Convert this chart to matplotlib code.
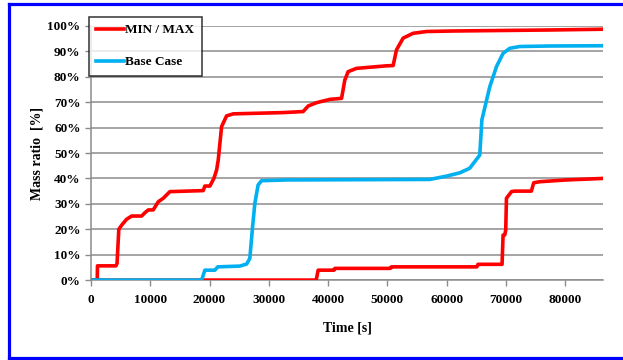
import matplotlib
matplotlib.use("Agg")
import matplotlib.pyplot as plt
from matplotlib.lines import Line2D

# MAX curve (upper red)
max_t = [0, 1060, 1100, 4200, 4400, 4700, 5180, 6000, 6860, 8550, 9100, 9670, 10500,
         11350, 12200, 13320, 18940, 19220, 20070, 20740, 21200, 21470, 22040, 22880,
         24000, 32430, 35800, 36650, 38060, 40300, 42280, 42830, 43390, 44800, 49860,
         50980, 51550, 52670, 54350, 56610, 61100, 77400, 86400]
max_v = [0, 0, 5.6, 5.6, 6.5, 20, 21.6, 23.9, 25.2, 25.2, 26.5, 27.6, 27.6,
         30.8, 32.2, 34.8, 35.2, 37, 37, 40, 43.3, 47.2, 60.4, 64.6,
         65.4, 65.9, 66.3, 68.5, 69.8, 71.1, 71.5, 78.7, 82, 83.3, 84.3,
         84.4, 90.6, 95.2, 97.1, 97.8, 98, 98.4, 98.7]

# MIN curve (lower red)
min_t = [0, 38000, 38330, 41000, 41150, 50500, 50700, 65100, 65300, 69360, 69530,
         69800, 69980, 70100, 70950, 71500, 74300, 74700, 75720, 80200, 86400]
min_v = [0, 0, 3.9, 3.9, 4.6, 4.6, 5.2, 5.2, 6.2, 6.2, 17.7,
         17.7, 19.7, 32.2, 34.8, 35, 35, 38.3, 38.7, 39.4, 40]

# Base case (blue)
base_t = [0, 18670, 19220, 20900, 21400, 25100, 26260, 26800, 27270, 27650, 28200,
          28780, 33000, 57170, 60000, 62230, 63900, 64750, 65600, 65950, 67290,
          68420, 69530, 70660, 72340, 77400, 86400]
base_v = [0, 0, 3.9, 3.9, 5.2, 5.5, 6.3, 8.5, 21, 30.2, 37.4,
          39.1, 39.4, 39.6, 40.9, 42.2, 44, 46.6, 49.2, 63, 76.1,
          84, 89.2, 91.2, 91.9, 92.1, 92.2]

x_ticks = [0, 10000, 20000, 30000, 40000, 50000, 60000, 70000, 80000]
y_ticks = [0, 10, 20, 30, 40, 50, 60, 70, 80, 90, 100]

plt.rcParams['font.family'] = ['Liberation Serif', 'DejaVu Serif']
plt.rcParams['font.weight'] = 'bold'

fig = plt.figure(figsize=(6.23, 3.6), dpi=100)
ax = fig.add_axes([0.146, 0.222, 0.822, 0.706])

red = '#ff0000'
blue = '#00b0f0'
grey = '#8c8c8c'

ax.plot(max_t, max_v, color=red, lw=2.6, label='MIN / MAX', zorder=3)
ax.plot(min_t, min_v, color=red, lw=2.6, zorder=3)
ax.plot(base_t, base_v, color=blue, lw=2.6, label='Base Case', zorder=4)

ax.set_xlim(0, 86400)
ax.set_ylim(0, 100)
ax.set_xticks(x_ticks)
ax.set_xticklabels([str(v) for v in x_ticks])
ax.set_yticks(y_ticks)
ax.set_yticklabels([f'{v}%' for v in y_ticks])

ax.grid(axis='y', color=grey, lw=1.1, zorder=0)
for s in ['top', 'right']:
    ax.spines[s].set_visible(False)
for s in ['left', 'bottom']:
    ax.spines[s].set_color(grey)
    ax.spines[s].set_linewidth(1.1)
ax.tick_params(axis='both', colors=grey, labelcolor='black', labelsize=9.5,
               length=4, width=1)
ax.tick_params(axis='x', pad=6)

ax.set_xlabel('Time [s]', fontsize=10, fontweight='bold', labelpad=11)
ax.set_ylabel('Mass ratio  [%]', fontsize=10, fontweight='bold', labelpad=3)

leg = ax.legend(loc='upper left', bbox_to_anchor=(0.143, 0.953),
                bbox_transform=fig.transFigure, frameon=True, fancybox=False,
                edgecolor='black', fontsize=9.5, handlelength=2.1,
                handletextpad=0.1, labelspacing=1.5, borderpad=0.55,
                borderaxespad=0)
leg.get_frame().set_linewidth(1.1)
leg.set_zorder(10)

# blue frame around the figure
frame_kw = dict(color='#0000ff', lw=2.3, transform=fig.transFigure)
fig.add_artist(Line2D([0.0144, 1.0], [0.990, 0.990], **frame_kw))
fig.add_artist(Line2D([0.0144, 1.0], [0.0045, 0.0045], **frame_kw))
fig.add_artist(Line2D([0.0144, 0.0144], [0.0045, 0.990], **frame_kw))

fig.savefig('out.png', dpi=100)
